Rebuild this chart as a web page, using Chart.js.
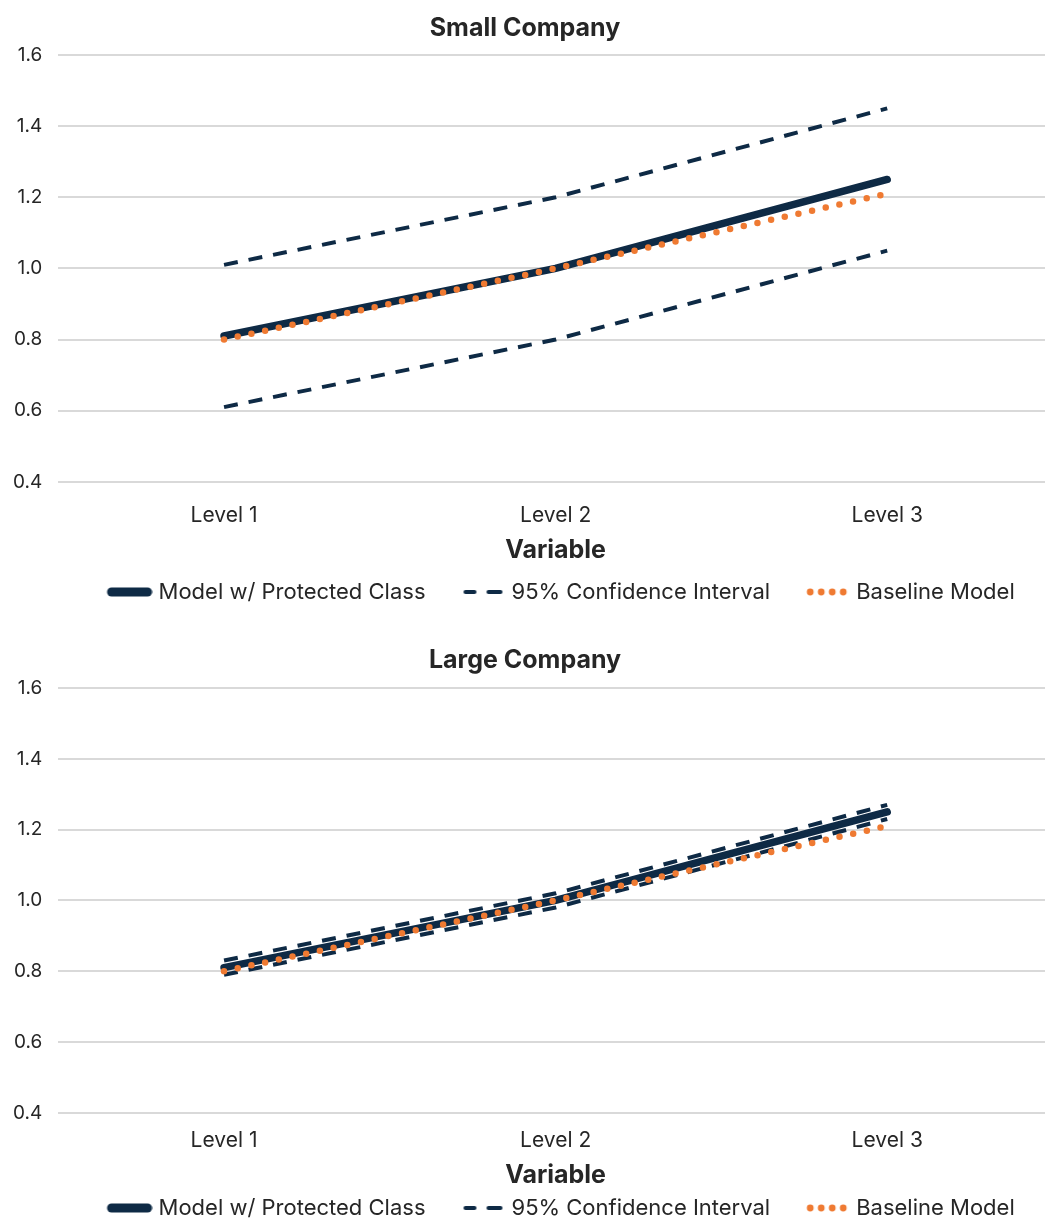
<!DOCTYPE html>
<html>
<head>
<meta charset="utf-8">
<script src="https://cdn.jsdelivr.net/npm/chart.js@4.4.1/dist/chart.umd.min.js"></script>
<style>
  html, body { margin: 0; padding: 0; background: #fff; overflow: hidden; height: 1226px; }
  body { position: relative; }
  .box { position: absolute; left: 0; width: 1053px; }
  #top { top: 0; height: 617px; }
  #bottom { top: 632px; height: 601px; }
</style>
</head>
<body>
<div class="box" id="top"><canvas id="c1"></canvas></div>
<div class="box" id="bottom"><canvas id="c2"></canvas></div>
<script>
  /* ---- data ---------------------------------------------------------------- */
  const levels = ["Level 1", "Level 2", "Level 3"];
  const yTicks = [0.4, 0.6, 0.8, 1.0, 1.2, 1.4, 1.6];

  const smallModel = [0.81, 1.0, 1.25];
  const smallUpper = [1.01, 1.2, 1.45];
  const smallLower = [0.61, 0.8, 1.05];
  const smallBaseline = [0.80, 1.0, 1.21];

  const largeModel = [0.81, 1.0, 1.25];
  const largeUpper = [0.83, 1.02, 1.27];
  const largeLower = [0.79, 0.98, 1.23];
  const largeBaseline = [0.80, 1.0, 1.21];

  /* ---- styling ------------------------------------------------------------- */
  const NAVY = "#0e2a45";
  const ORANGE = "#ef7a32";
  const TEXT = "#262626";
  const FONT = "Inter, 'Open Sans', sans-serif";
  const LEG_PAD = 24;   // legend padding (also gap between items)
  const LEG_BOX = 51;   // legend box width; the 46px sample sits at its right end

  function swatch(kind) {
    const c = document.createElement("canvas");
    c.width = LEG_BOX + 10; c.height = 14;
    const g = c.getContext("2d");
    const x0 = c.width - 46;
    g.lineCap = "round";
    if (kind === "solid") {
      g.strokeStyle = NAVY; g.lineWidth = 9;
      g.beginPath(); g.moveTo(x0 + 5, 7); g.lineTo(x0 + 41, 7); g.stroke();
    } else if (kind === "dash") {
      g.strokeStyle = NAVY; g.lineWidth = 4;
      g.beginPath(); g.moveTo(x0 + 6, 7); g.lineTo(x0 + 15, 7); g.moveTo(x0 + 29, 7); g.lineTo(x0 + 41, 7); g.stroke();
    } else {
      g.fillStyle = ORANGE;
      [6, 17, 28, 39].forEach((x) => { g.beginPath(); g.arc(x0 + x, 7, 3.4, 0, Math.PI * 2); g.fill(); });
    }
    return c;
  }
  const swatches = { solid: swatch("solid"), dash: swatch("dash"), dot: swatch("dot") };

  function makeChart(canvas, title, model, upper, lower, baseline, lay) {
    const common = { pointRadius: 0, pointHoverRadius: 0, fill: false, tension: 0 };
    return new Chart(canvas, {
      type: "line",
      data: {
        labels: levels,
        datasets: [
          Object.assign({ label: "95% Confidence Interval", data: upper, borderColor: NAVY, borderWidth: 4, borderDash: [14, 11], legendKey: "dash", order: 3 }, common),
          Object.assign({ label: "95% Confidence Interval", data: lower, borderColor: NAVY, borderWidth: 4, borderDash: [14, 11], legendKey: "dash", order: 3 }, common),
          Object.assign({ label: "Model w/ Protected Class", data: model, borderColor: NAVY, borderWidth: 7.5, borderCapStyle: "round", legendKey: "solid", order: 2 }, common),
          Object.assign({ label: "Baseline Model", data: baseline, borderColor: ORANGE, borderWidth: 6.5, borderCapStyle: "round", borderDash: [0, 14], legendKey: "dot", order: 1 }, common),
        ],
      },
      options: {
        responsive: true,
        maintainAspectRatio: false,
        animation: false,
        layout: { padding: { top: 13, bottom: 4, left: -3, right: 0 } },
        plugins: {
          title: { display: true, text: title, color: TEXT, font: { family: FONT, size: 25, weight: "700" }, padding: { top: 0, bottom: lay.titleGap } },
          tooltip: { enabled: false },
          legend: {
            position: "bottom",
            fullSize: false,
            labels: {
              color: TEXT,
              font: { family: FONT, size: 22 },
              usePointStyle: true,
              pointStyleWidth: LEG_BOX,
              boxHeight: 14,
              padding: LEG_PAD,
              generateLabels: (chart) => [2, 0, 3].map((i) => {
                const ds = chart.data.datasets[i];
                return { text: ds.label, pointStyle: swatches[ds.legendKey], fontColor: TEXT, lineWidth: 0, strokeStyle: "transparent", fillStyle: "transparent", datasetIndex: i, hidden: false };
              }),
            },
          },
        },
        scales: {
          x: {
            offset: true,
            grid: { display: false },
            border: { display: false },
            ticks: { color: TEXT, font: { family: FONT, size: 21 }, padding: lay.tickPad },
            title: { display: true, text: "Variable", color: TEXT, font: { family: FONT, size: 25, weight: "700" }, padding: { top: lay.axisTop, bottom: lay.axisBottom } },
          },
          y: {
            min: yTicks[0],
            max: yTicks[yTicks.length - 1],
            afterBuildTicks: (axis) => { axis.ticks = yTicks.map((v) => ({ value: v })); },
            grid: { color: "#d9d9d9", lineWidth: 2, drawTicks: false },
            border: { display: false },
            ticks: { color: TEXT, font: { family: FONT, size: 19 }, padding: 16, callback: (v) => Number(v).toFixed(1) },
          },
        },
      },
    });
  }

  makeChart(document.getElementById("c1"), "Small Company", smallModel, smallUpper, smallLower, smallBaseline,
    { titleGap: 12, tickPad: 13, axisTop: -6, axisBottom: -8 });
  makeChart(document.getElementById("c2"), "Large Company", largeModel, largeUpper, largeLower, largeBaseline,
    { titleGap: 13, tickPad: 7, axisTop: 0, axisBottom: -17 });
</script>
</body>
</html>
